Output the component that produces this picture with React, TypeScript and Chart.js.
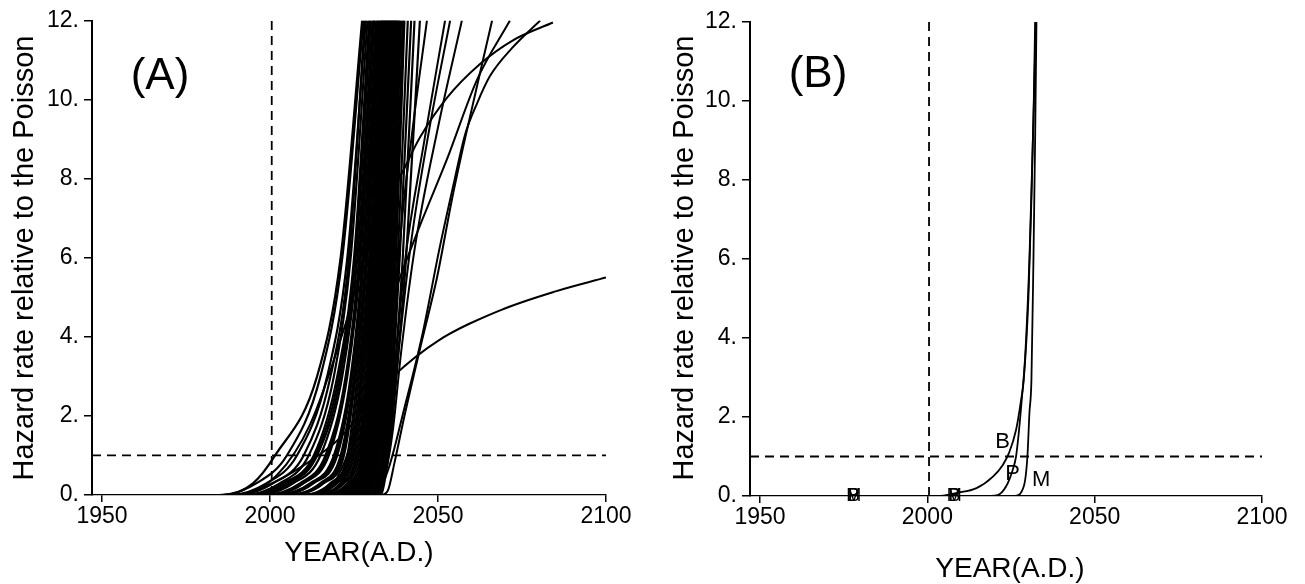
import React, { useEffect, useRef } from 'react';
import { Chart, registerables } from 'chart.js';
Chart.register(...registerables);

const FONT = '"Liberation Sans", Arial, Helvetica, sans-serif';

// ---- shared axes ----
const xTicks = [1950, 2000, 2050, 2100];
const yTicks = [0, 2, 4, 6, 8, 10, 12];
const xMin = 1947;
const xMax = 2100;
const yMin = 0;
const yMax = 12;
const presentYear = 2000.5;
const poissonLevel = 1;
const yTitle = 'Hazard rate relative to the Poisson';
const xTitle = 'YEAR(A.D.)';

// ---- panel A: simulated hazard curves ----
// each row: year at which a curve leaves 0, then years at which it reaches 0.3, 1, 3, 6, 12
const bandLevels = [0, 0.3, 1, 3, 6, 12];
const bandCurves = [
  [1986, 1995, 2001.5, 2014, 2021, 2027.4],
  [1985, 1996, 2005, 2015, 2021.5, 2027.8],
  [1988, 1999, 2008, 2017, 2023, 2028.5],
  [1990, 2001, 2010, 2018, 2023.5, 2028.2],
  [1992, 2003, 2011.5, 2019, 2024, 2029],
  [1993, 2004, 2013, 2020, 2025, 2029.5],
  [1994, 2005, 2013.5, 2020.5, 2025.2, 2029.7],
  [1995, 2006, 2014, 2021, 2025.5, 2030],
  [1996, 2007, 2015, 2021.5, 2026, 2030.5],
  [1998, 2009, 2016.5, 2022.5, 2026.5, 2030.8],
  [1999, 2010, 2017, 2022.8, 2026.8, 2030.9],
  [2000, 2010, 2017.5, 2023, 2027, 2031],
  [2001, 2012, 2019, 2024, 2027.5, 2031.5],
  [2002, 2012.5, 2019.5, 2024.2, 2027.8, 2031.7],
  [2003, 2013, 2020, 2024.5, 2028, 2032],
  [2004, 2015, 2021, 2025, 2028.5, 2032.3],
  [2005, 2015.5, 2021.5, 2025.2, 2028.7, 2032.4],
  [2006, 2016, 2022, 2025.5, 2029, 2032.6],
  [2008, 2018, 2023, 2026, 2029.5, 2033],
  [2009, 2018.5, 2023.5, 2026.5, 2029.7, 2033.1],
  [2010, 2019, 2024, 2027, 2030, 2033.3],
  [2011, 2019.5, 2024.5, 2027.2, 2030.2, 2033.4],
  [2012, 2020, 2025, 2027.5, 2030.5, 2033.6],
  [2013, 2021, 2025.5, 2028, 2030.7, 2033.8],
  [2014, 2021.5, 2026, 2028.5, 2031, 2034],
  [2015, 2022, 2026.5, 2028.8, 2031.2, 2034.1],
  [2016, 2023, 2027, 2029, 2031.5, 2034.3],
  [2017, 2023.5, 2027.2, 2029.2, 2031.8, 2034.5],
  [2018, 2024, 2027.5, 2029.5, 2032, 2034.6],
  [2018.5, 2024.5, 2027.8, 2029.8, 2032.2, 2034.8],
  [2019, 2025, 2028, 2030, 2032.5, 2035],
  [2019.5, 2025.5, 2028.3, 2030.3, 2032.8, 2035.1],
  [2020, 2026, 2028.5, 2030.5, 2033, 2035.3],
  [2020.5, 2026.2, 2028.8, 2030.8, 2033.1, 2035.5],
  [2021, 2026.5, 2029, 2031, 2033.3, 2035.6],
  [2021.5, 2026.8, 2029.3, 2031.3, 2033.5, 2035.8],
  [2022, 2027, 2029.5, 2031.5, 2033.6, 2036],
  [2022.5, 2027.3, 2029.8, 2031.8, 2033.8, 2036.1],
  [2023, 2027.5, 2030, 2032, 2034, 2036.3],
  [2023.5, 2027.8, 2030.3, 2032.2, 2034.2, 2036.5],
  [2024, 2028, 2030.5, 2032.3, 2034.3, 2036.6],
  [2024.5, 2028.3, 2030.8, 2032.5, 2034.5, 2036.8],
  [2025, 2028.5, 2031, 2032.7, 2034.6, 2037],
  [2025.5, 2028.8, 2031.3, 2032.9, 2034.8, 2037.1],
  [2026, 2029, 2031.5, 2033, 2035, 2037.3],
  [2026.5, 2029.3, 2031.8, 2033.3, 2035.2, 2037.5],
  [2027, 2029.5, 2032, 2033.5, 2035.3, 2037.6],
  [2027.2, 2029.8, 2032.3, 2033.8, 2035.5, 2037.8],
  [2027.5, 2030, 2032.5, 2034, 2035.6, 2038],
  [2028, 2030.5, 2033, 2034.3, 2036, 2038.3],
  [2028.5, 2030.8, 2033.1, 2034.5, 2036.1, 2038.4],
  [2029, 2031, 2033.3, 2034.7, 2036.3, 2038.6],
  [2029.5, 2031.5, 2033.6, 2035, 2036.6, 2039],
  [2030, 2032, 2034, 2035.4, 2037, 2039.5],
  [2030.5, 2032.2, 2034.1, 2035.6, 2037.2, 2039.7],
  [2031, 2032.5, 2034.3, 2035.8, 2037.5, 2040],
  [2031.5, 2033, 2034.6, 2036.2, 2038, 2041],
  [2032, 2033.3, 2034.8, 2036.6, 2038.6, 2042],
  [2032.5, 2033.6, 2035, 2037, 2039.5, 2043],
  [2033, 2034, 2035.2, 2037.5, 2040.5, 2044.6],
];

// curves that leave the bundle towards later years: [year, hazard] pairs
const curveR1 = [[2030, 0], [2033, 0.5], [2035, 1.5], [2037, 4], [2038.7, 6.4], [2042.5, 9.3], [2046.7, 12]];
const curveR2 = [[2030.5, 0], [2033.5, 0.5], [2035.5, 1.5], [2037.5, 3.5], [2040, 5.8], [2046, 9], [2052.1, 12]];
const curveR3 = [[2031, 0], [2034, 0.5], [2036, 1.5], [2038.5, 3.8], [2042, 6.4], [2047.5, 9.3], [2053.6, 12]];
const curveR4 = [[2031.5, 0], [2034.5, 0.6], [2036.5, 1.6], [2039, 3.6], [2043, 6.2], [2050, 9.3], [2057.1, 12]];
const curveR5 = [[2033, 0], [2035, 0.1], [2037, 0.8], [2040, 2], [2045.2, 3.9], [2049.7, 5.5], [2054.2, 7.5], [2058, 9], [2066.1, 12]];
const curveR6 = [[2015, 0], [2022, 0.8], [2028, 2.5], [2033, 4.1], [2038.7, 5.5], [2045.5, 7], [2052.7, 8.5], [2061.6, 10.5], [2071.4, 12]];
const curveR7 = [[2031, 0], [2035, 0.6], [2040, 2.2], [2045.2, 4], [2050.6, 6.3], [2055, 8], [2058, 9.1], [2061.6, 9.9], [2065.5, 10.6], [2072, 11.3], [2080.4, 12]];
const curveR8 = [[1990, 0], [2002, 0.5], [2012, 1.8], [2022, 4.2], [2031, 6.8], [2039.6, 8.2], [2044.6, 9.04], [2052.7, 10.05], [2062.5, 10.9], [2072.3, 11.5], [2084.2, 11.95]];
const curveLow = [[1990, 0], [2000.6, 0.3], [2010, 0.75], [2019, 1.3], [2024, 1.75], [2030, 2.4], [2036.6, 3], [2050, 3.9], [2068.5, 4.67], [2085, 5.15], [2100, 5.5]];
const extraCurvesA = [curveR1, curveR2, curveR3, curveR4, curveR5, curveR6, curveR7, curveR8, curveLow];

// ---- panel B: curves B, P, M ----
const curveB = [[1947, 0], [2003, 0], [2008.8, 0.08], [2014.7, 0.2], [2019.6, 0.49], [2022.5, 0.78], [2024.4, 1.09], [2026.5, 1.67], [2028, 2.43], [2028.8, 2.94], [2030.2, 5], [2031.1, 7.5], [2031.8, 10], [2032.2, 12]];
const curveP = [[1947, 0], [2019, 0], [2021, 0.02], [2023.5, 0.24], [2025.5, 0.66], [2026.5, 1], [2027.4, 1.67], [2028.2, 2.43], [2029.2, 3.5], [2030.5, 6], [2031.7, 9.5], [2032.4, 12]];
const curveM = [[1947, 0], [2026, 0], [2028.8, 0.24], [2029.9, 1], [2030.5, 2.1], [2031.1, 2.94], [2031.7, 6], [2032.2, 9], [2032.6, 12]];
const curveTags = [
  { text: 'B', x: 2022.5, y: 1.37 },
  { text: 'P', x: 2025.5, y: 0.57 },
  { text: 'M', x: 2034, y: 0.4 },
];
const eventYears = [1978, 2008];
const eventLetters = ['B', 'P', 'M'];

// ---- helpers ----
const toPts = (arr: number[][]) => arr.map(([x, y]) => ({ x, y }));

const curveDs = (pts: { x: number; y: number }[], width = 2) => ({
  data: pts,
  borderColor: '#000',
  borderWidth: width,
  pointRadius: 0,
  fill: false,
  cubicInterpolationMode: 'monotone' as const,
});

const dashDs = (pts: { x: number; y: number }[]) => ({
  data: pts,
  borderColor: '#000',
  borderWidth: 1.8,
  borderDash: [9, 6],
  pointRadius: 0,
  fill: false,
  tension: 0,
});

const guideLines = () => [
  dashDs([{ x: presentYear, y: yMin }, { x: presentYear, y: yMax }]),
  dashDs([{ x: xMin, y: poissonLevel }, { x: xMax, y: poissonLevel }]),
];

type Geom = {
  padRight: number;
  padTop: number;
  yAxisWidth: number;
  xAxisHeight: number;
  yTitleX: number;
  yTitleY: number;
  xTitleX: number;
  xTitleY: number;
  tag: string;
  tagX: number;
  tagY: number;
};

type Label = { text: string; x: number; y: number; size: number };

function makeTextPlugin(g: Geom, labels: Label[]) {
  return {
    id: 'texts',
    afterDatasetsDraw(chart: any) {
      const ctx = chart.ctx as CanvasRenderingContext2D;
      const xs = chart.scales.x;
      const ys = chart.scales.y;
      ctx.save();
      ctx.fillStyle = '#000';
      ctx.save();
      ctx.font = `29px ${FONT}`;
      ctx.translate(g.yTitleX, g.yTitleY);
      ctx.rotate(-Math.PI / 2);
      ctx.textAlign = 'center';
      ctx.textBaseline = 'alphabetic';
      ctx.fillText(yTitle, 0, 0);
      ctx.restore();
      ctx.font = `28px ${FONT}`;
      ctx.textAlign = 'center';
      ctx.textBaseline = 'alphabetic';
      ctx.fillText(xTitle, g.xTitleX, g.xTitleY);
      ctx.font = `44px ${FONT}`;
      ctx.textBaseline = 'middle';
      ctx.fillText(g.tag, g.tagX, g.tagY);
      labels.forEach((l) => {
        ctx.font = `${l.size}px ${FONT}`;
        ctx.textAlign = 'center';
        ctx.textBaseline = 'middle';
        ctx.fillText(l.text, xs.getPixelForValue(l.x), ys.getPixelForValue(l.y));
      });
      ctx.restore();
    },
  };
}

function buildChart(canvas: HTMLCanvasElement, datasets: any[], g: Geom, labels: Label[]) {
  return new Chart(canvas, {
    type: 'line',
    data: { datasets },
    options: {
      animation: false,
      responsive: false,
      maintainAspectRatio: false,
      events: [],
      layout: { padding: { left: 0, right: g.padRight, top: g.padTop, bottom: 0 } },
      plugins: { legend: { display: false }, tooltip: { enabled: false } },
      scales: {
        x: {
          type: 'linear',
          min: xMin,
          max: xMax,
          afterBuildTicks: (s: any) => {
            s.ticks = xTicks.map((v) => ({ value: v }));
          },
          afterFit: (s: any) => {
            s.height = g.xAxisHeight;
          },
          ticks: {
            font: { family: FONT, size: 23 },
            color: '#000',
            padding: 1,
            maxRotation: 0,
            autoSkip: false,
            callback: (v: any) => String(v),
          },
          grid: { drawOnChartArea: false, drawTicks: true, tickLength: 7, color: '#000', lineWidth: 1.5 },
          border: { display: true, color: '#000', width: 1.2 },
        },
        y: {
          type: 'linear',
          min: yMin,
          max: yMax,
          afterBuildTicks: (s: any) => {
            s.ticks = yTicks.map((v) => ({ value: v }));
          },
          afterFit: (s: any) => {
            s.width = g.yAxisWidth;
          },
          ticks: {
            font: { family: FONT, size: 23 },
            color: '#000',
            padding: 5,
            autoSkip: false,
            callback: (v: any) => `${v}.`,
          },
          grid: { drawOnChartArea: false, drawTicks: true, tickLength: 8, color: '#000', lineWidth: 1.5 },
          border: { display: true, color: '#000', width: 2 },
        },
      },
    } as any,
    plugins: [makeTextPlugin(g, labels)],
  });
}

function Panel({ left, width, build }: { left: number; width: number; build: (c: HTMLCanvasElement) => Chart }) {
  const ref = useRef<HTMLCanvasElement | null>(null);
  useEffect(() => {
    if (!ref.current) return;
    const chart = build(ref.current);
    return () => chart.destroy();
  }, []);
  return (
    <canvas
      ref={ref}
      width={width}
      height={584}
      style={{ position: 'absolute', left, top: 0, width, height: 584 }}
    />
  );
}

const geomA: Geom = {
  padRight: 46,
  padTop: 20.5,
  yAxisWidth: 92,
  xAxisHeight: 89,
  yTitleX: 33,
  yTitleY: 258,
  xTitleX: 359,
  xTitleY: 561,
  tag: '(A)',
  tagX: 160,
  tagY: 77,
};

const geomB: Geom = {
  padRight: 43,
  padTop: 22,
  yAxisWidth: 98,
  xAxisHeight: 88,
  yTitleX: 41,
  yTitleY: 258,
  xTitleX: 358,
  xTitleY: 577,
  tag: '(B)',
  tagX: 166,
  tagY: 75,
};

function buildA(c: HTMLCanvasElement) {
  const band = bandCurves.map((row) =>
    curveDs([{ x: xMin, y: 0 }, ...bandLevels.map((lv, i) => ({ x: row[i], y: lv }))], 2.2)
  );
  const extras = extraCurvesA.map((arr) => curveDs([{ x: xMin, y: 0 }, ...toPts(arr)], 2));
  return buildChart(c, [...guideLines(), ...band, ...extras], geomA, []);
}

function buildB(c: HTMLCanvasElement) {
  const ds = [curveB, curveP, curveM].map((arr) => curveDs(toPts(arr), 1.8));
  const labels: Label[] = [
    ...curveTags.map((t) => ({ ...t, size: 22 })),
    ...eventYears.flatMap((yr) => eventLetters.map((t) => ({ text: t, x: yr, y: 0, size: 18 }))),
  ];
  return buildChart(c, [...guideLines(), ...ds], geomB, labels);
}

export default function App() {
  return (
    <div style={{ position: 'fixed', left: 0, top: 0, width: 1305, height: 584, background: '#fff' }}>
      <Panel left={0} width={652} build={buildA} />
      <Panel left={652} width={653} build={buildB} />
    </div>
  );
}
